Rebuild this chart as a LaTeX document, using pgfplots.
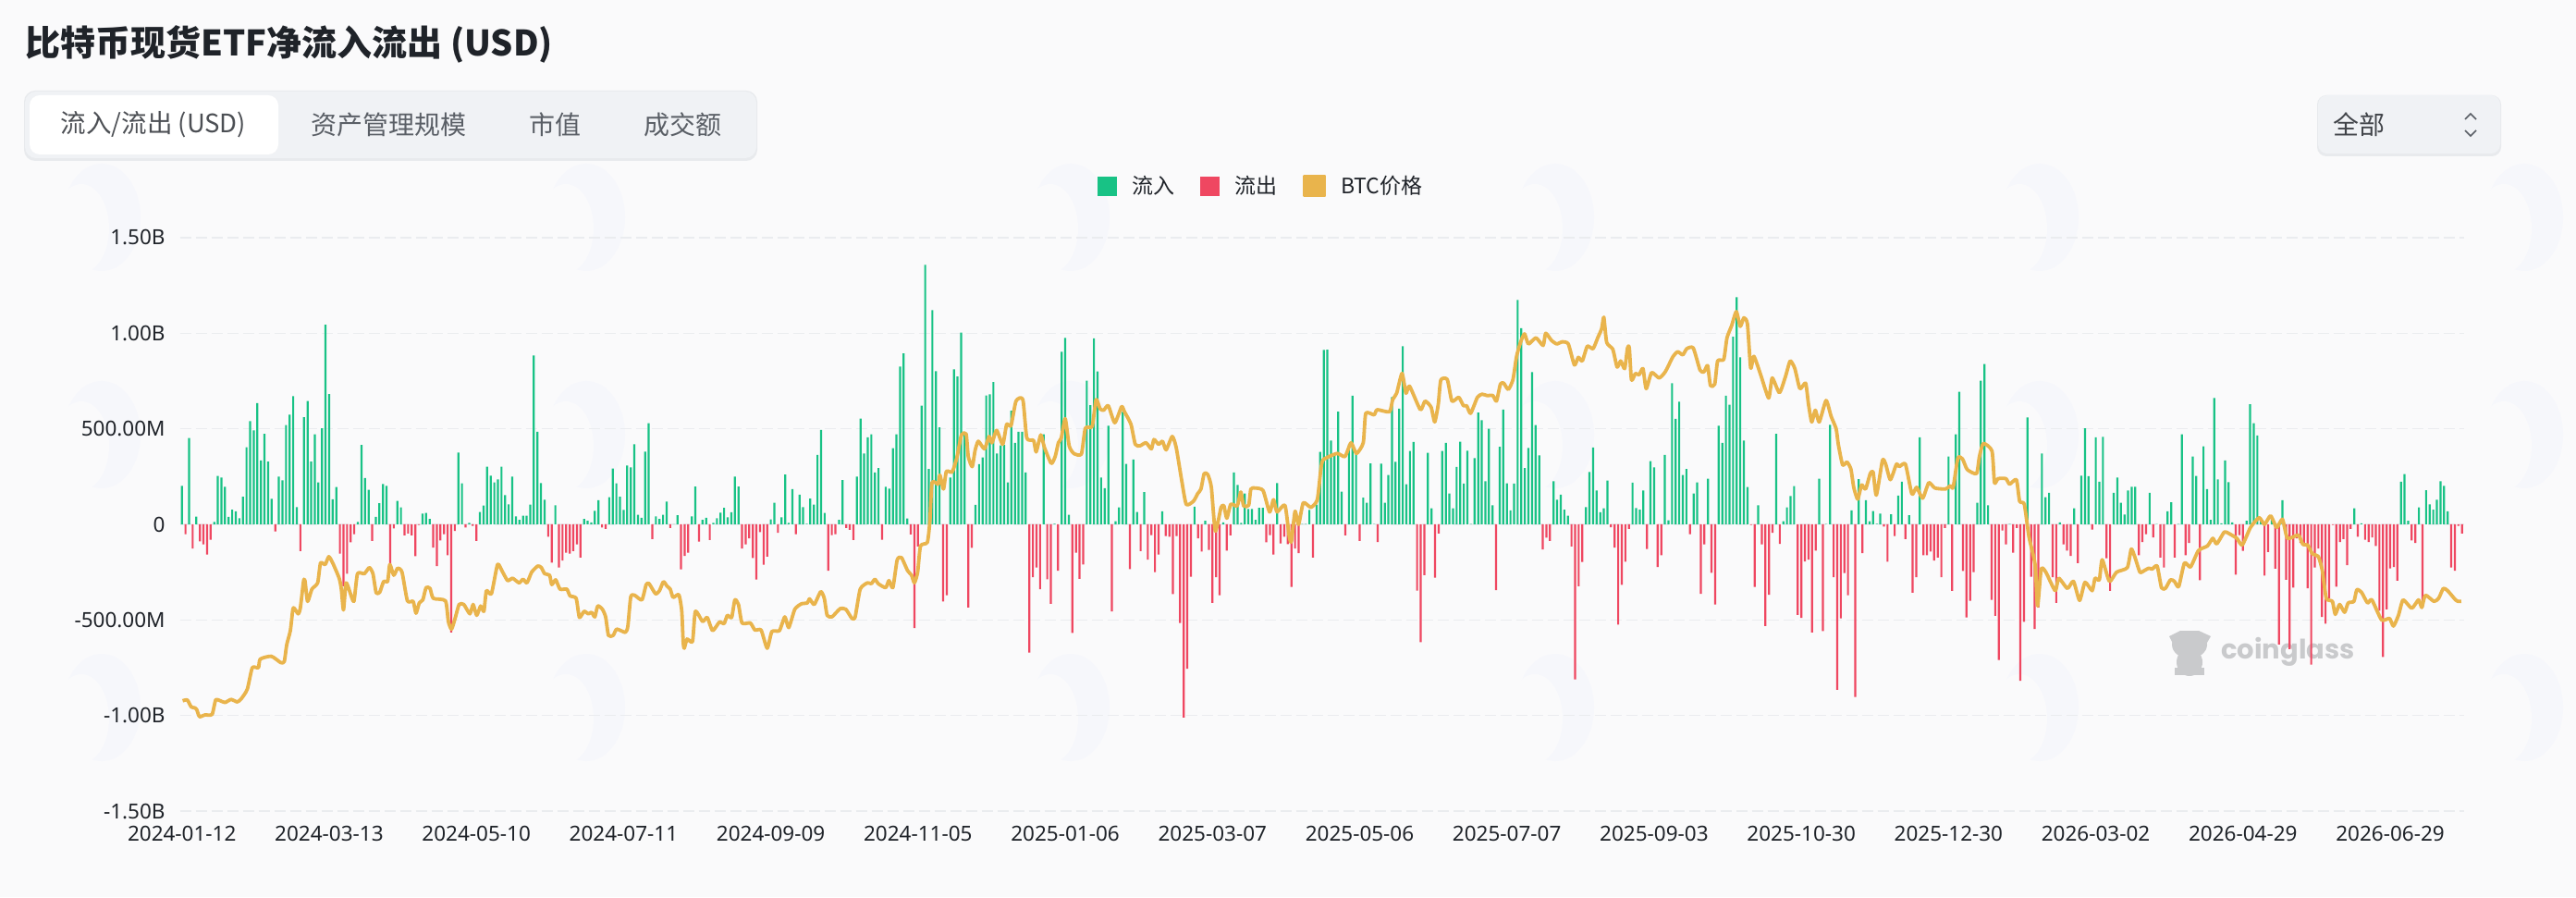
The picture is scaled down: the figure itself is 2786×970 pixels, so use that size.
\documentclass[border=0pt]{standalone}
\usepackage{pgfplots}
\usepackage{pgfplotstable}
\usepackage{fontspec}
\pgfplotsset{compat=1.18}
\setmainfont{Noto Sans}
\newfontfamily\cjk{Noto Sans CJK SC}
\newfontfamily\logofont{Poppins}
\definecolor{bgc}{HTML}{FAFAFB}
\definecolor{blob}{HTML}{F6F7FB}
\definecolor{tabbg}{HTML}{F0F2F5}
\definecolor{tabsh}{HTML}{E8EAED}
\definecolor{flowin}{HTML}{18C285}
\definecolor{flowout}{HTML}{EF4761}
\definecolor{btc}{HTML}{E9B44C}
\definecolor{gridc}{HTML}{EAECEF}
\definecolor{ticktxt}{HTML}{1F2329}
\definecolor{tabtxt}{HTML}{5A5F66}
\definecolor{logoc}{HTML}{C9CACC}
% net flow per trading day, millions of USD
\pgfplotstableread[row sep=crcr]{v\\
202\\-52\\452\\-126\\40\\-89\\-105\\-158\\-81\\13\\253\\245\\197\\39\\77\\68\\32\\145\\403\\540\\492\\635\\335\\474\\329\\134\\-37\\250\\230\\519\\574\\671\\90\\-140\\561\\645\\329\\471\\219\\503\\1044\\682\\131\\195\\-153\\-323\\-258\\-94\\-52\\13\\416\\242\\181\\-87\\39\\111\\211\\202\\-210\\-21\\123\\89\\-58\\-48\\-58\\-166\\-3\\56\\60\\29\\-121\\-218\\-84\\-52\\-161\\-565\\-35\\376\\215\\-16\\8\\-8\\-87\\65\\98\\302\\255\\219\\235\\302\\
153\\105\\250\\42\\24\\45\\45\\103\\884\\484\\216\\129\\-65\\-200\\100\\-226\\-189\\-148\\-153\\-140\\-105\\-174\\29\\19\\10\\71\\127\\-16\\-23\\142\\292\\215\\145\\76\\308\\298\\419\\50\\35\\381\\529\\-77\\42\\29\\50\\119\\-19\\1\\48\\-235\\-165\\-148\\42\\198\\-90\\24\\35\\-82\\8\\32\\61\\87\\37\\63\\250\\198\\-127\\-105\\-73\\-176\\-289\\-40\\-211\\-169\\26\\113\\-44\\37\\261\\8\\185\\-52\\155\\90\\3\\135\\103\\363\\494\\60\\-242\\
-56\\-52\\23\\232\\-19\\-29\\-82\\250\\553\\371\\455\\471\\271\\295\\-81\\197\\187\\398\\471\\826\\895\\31\\-53\\-542\\-116\\621\\1358\\290\\1121\\802\\508\\-403\\-371\\245\\811\\773\\1003\\474\\-435\\-123\\102\\315\\350\\674\\681\\745\\371\\413\\415\\219\\594\\427\\484\\484\\271\\-671\\-277\\-226\\-339\\471\\-287\\-415\\3\\-242\\903\\976\\50\\-568\\-148\\-285\\-210\\752\\624\\973\\800\\245\\189\\516\\-456\\16\\89\\589\\316\\-234\\339\\65\\-140\\169\\-185\\-56\\-250\\-158\\
68\\-61\\-65\\-365\\-61\\-516\\-1011\\-755\\-274\\92\\-73\\-142\\19\\-134\\-411\\-277\\-371\\10\\-137\\-58\\271\\206\\8\\161\\81\\81\\24\\87\\87\\-94\\-56\\-158\\216\\-100\\-65\\-103\\-327\\-126\\-150\\2\\2\\76\\-173\\103\\379\\913\\914\\439\\371\\590\\171\\-58\\419\\673\\379\\-87\\140\\113\\319\\2\\-92\\318\\113\\258\\666\\327\\605\\932\\210\\384\\431\\-347\\-616\\-266\\374\\84\\-279\\-48\\384\\427\\161\\84\\300\\432\\213\\385\\2\\347\\585\\545\\226\\
500\\100\\-344\\406\\600\\215\\73\\213\\1174\\1027\\295\\400\\797\\519\\361\\-131\\-69\\-87\\226\\129\\155\\77\\45\\-116\\-811\\-324\\-197\\90\\274\\402\\177\\63\\84\\229\\-15\\-121\\-524\\-316\\-195\\-24\\218\\85\\77\\177\\-129\\331\\298\\-223\\-161\\363\\21\\739\\552\\642\\258\\290\\-52\\161\\219\\-363\\-105\\239\\-253\\-419\\516\\427\\673\\626\\982\\1189\\874\\439\\195\\-3\\-327\\100\\-105\\-532\\-368\\-44\\474\\-102\\16\\89\\148\\200\\-473\\-489\\-194\\-185\\-566\\-137\\
239\\-558\\2\\521\\-277\\-866\\-492\\-255\\-371\\73\\-903\\237\\-150\\127\\16\\69\\3\\56\\-11\\-195\\53\\-61\\150\\223\\-77\\48\\-358\\-276\\456\\-161\\-161\\-142\\-189\\-174\\-276\\-19\\355\\-348\\471\\694\\-244\\-487\\-400\\-250\\113\\752\\839\\100\\-395\\-479\\-710\\-32\\-105\\2\\-148\\-19\\-818\\-510\\560\\-274\\-547\\-435\\371\\142\\165\\-277\\-411\\10\\-105\\-137\\-165\\84\\-203\\255\\503\\252\\-27\\456\\223\\458\\-177\\-348\\165\\245\\113\\52\\177\\197\\197\\-161\\-92\\
-52\\165\\-68\\2\\-173\\-226\\68\\116\\-173\\2\\471\\-161\\-97\\355\\253\\-292\\408\\185\\24\\661\\235\\6\\334\\221\\10\\-263\\-56\\-139\\19\\629\\529\\465\\30\\-268\\-145\\24\\-232\\-629\\127\\-290\\-653\\-331\\-73\\-97\\-113\\-334\\-734\\-226\\-126\\-484\\-519\\-387\\-3\\-326\\-92\\-77\\-213\\-24\\84\\-65\\5\\-81\\-92\\-68\\-113\\-452\\-694\\-445\\-231\\-223\\-295\\223\\263\\19\\-84\\-97\\89\\-435\\179\\105\\77\\129\\226\\202\\68\\-226\\-242\\-8\\-48\\
}\flowtable
% BTC price curve, position on the chart's scale: bar index, level
\pgfplotstableread[row sep=crcr]{i p\\
0.2 -923\\1.5 -919\\2.6 -955\\3.6 -960\\4.1 -968\\4.9 -1006\\6.4 -997\\8.4 -994\\9.4 -919\\10.7 -923\\12.0 -932\\13.7 -916\\15.4 -929\\16.5 -913\\18.2 -863\\19.6 -750\\21.3 -750\\21.8 -705\\24.9 -690\\27.5 -723\\28.5 -718\\29.2 -629\\30.2 -556\\30.9 -444\\31.3 -439\\32.4 -468\\33.0 -435\\33.9 -294\\34.3 -298\\35.0 -403\\36.2 -339\\37.8 -306\\38.6 -202\\39.9 -210\\40.9 -169\\42.0 -202\\43.8 -282\\44.4 -339\\45.0 -448\\45.7 -306\\46.8 -355\\47.9 -403\\48.9 -258\\50.8 -258\\52.2 -226\\53.2 -258\\54.1 -358\\55.1 -355\\56.2 -298\\57.3 -298\\57.9 -210\\59.0 -266\\60.1 -229\\61.3 -250\\62.8 -400\\64.4 -403\\65.2 -465\\66.1 -411\\67.1 -395\\68.0 -331\\69.1 -335\\70.0 -387\\73.4 -400\\74.2 -508\\75.1 -548\\76.2 -484\\77.2 -419\\78.5 -419\\80.2 -468\\81.1 -419\\82.1 -476\\83.2 -427\\84.1 -455\\84.8 -347\\86.2 -363\\87.9 -210\\89.1 -242\\
90.7 -294\\92.1 -282\\93.9 -306\\95.0 -287\\96.1 -306\\97.4 -250\\99.1 -218\\100.1 -226\\101.0 -258\\102.4 -266\\103.0 -315\\104.1 -290\\105.3 -339\\107.2 -339\\108.1 -374\\109.8 -387\\110.7 -487\\112.0 -455\\113.2 -468\\114.1 -460\\115.0 -484\\115.8 -427\\117.1 -444\\118.0 -484\\118.8 -581\\120.1 -581\\121.1 -548\\123.5 -565\\124.2 -532\\125.0 -379\\126.1 -371\\128.1 -395\\129.3 -315\\130.1 -310\\131.9 -363\\133.0 -347\\134.1 -300\\135.1 -323\\136.0 -339\\136.8 -382\\138.4 -368\\139.2 -452\\139.6 -613\\139.9 -648\\140.7 -600\\142.2 -613\\143.0 -455\\145.0 -508\\146.3 -487\\147.8 -556\\149.7 -511\\151.0 -519\\151.9 -476\\153.1 -487\\154.0 -395\\155.0 -419\\156.0 -516\\158.3 -516\\159.6 -553\\161.3 -553\\163.0 -648\\164.3 -561\\166.4 -556\\167.9 -484\\169.0 -540\\170.7 -444\\172.5 -416\\174.2 -411\\174.8 -390\\176.1 -419\\177.9 -352\\178.9 -387\\179.7 -476\\181.0 -484\\
182.3 -460\\183.4 -440\\184.9 -444\\186.6 -492\\187.5 -484\\188.9 -339\\190.9 -306\\192.0 -310\\193.0 -287\\193.9 -310\\196.0 -331\\196.9 -294\\198.0 -331\\199.2 -186\\200.4 -174\\202.1 -242\\203.2 -266\\204.0 -306\\204.9 -250\\205.7 -113\\207.6 -94\\208.3 16\\208.9 218\\210.6 210\\211.1 258\\212.1 185\\212.9 277\\214.5 274\\215.8 347\\217.1 468\\218.4 473\\219.0 355\\220.1 302\\220.9 387\\221.8 435\\223.5 395\\224.8 460\\225.6 427\\226.9 492\\228.6 419\\229.7 524\\230.9 516\\232.3 645\\234.2 653\\235.3 452\\237.2 439\\237.9 379\\239.2 468\\240.2 403\\242.1 319\\243.2 355\\244.1 427\\244.9 452\\246.0 553\\247.1 411\\248.4 371\\250.5 368\\251.6 503\\253.5 513\\254.6 653\\255.7 605\\256.7 597\\258.0 621\\259.8 532\\261.7 616\\262.5 589\\264.3 524\\265.5 419\\266.8 411\\268.5 427\\270.0 395\\270.7 444\\272.0 419\\
273.1 435\\274.1 390\\275.8 460\\276.9 403\\278.4 234\\279.7 105\\281.7 121\\282.9 161\\283.8 185\\284.7 266\\285.7 261\\286.7 194\\287.8 -35\\289.4 89\\290.2 97\\291.0 32\\292.1 105\\293.9 97\\294.9 169\\295.7 97\\297.1 100\\297.7 185\\299.0 190\\301.1 177\\302.9 65\\304.0 129\\305.0 65\\307.2 100\\308.4 -65\\309.0 -89\\310.0 68\\311.0 0\\312.3 113\\314.4 89\\316.2 129\\317.2 290\\317.9 339\\321.7 371\\323.9 355\\325.6 427\\327.1 371\\329.0 427\\329.7 581\\332.0 573\\332.9 600\\336.3 589\\337.2 653\\338.3 686\\339.8 790\\340.9 686\\341.9 723\\344.9 600\\346.2 645\\347.9 613\\348.9 536\\349.9 629\\350.6 755\\352.4 758\\353.7 645\\355.6 665\\356.9 621\\357.8 621\\358.9 581\\360.8 665\\362.1 681\\363.5 674\\
365.1 674\\366.1 645\\367.2 734\\368.1 739\\369.4 706\\370.7 758\\371.7 879\\372.8 952\\373.9 997\\375.0 944\\377.1 976\\379.1 936\\379.8 1000\\381.4 963\\382.9 944\\384.4 955\\386.1 944\\387.8 834\\388.9 874\\390.0 855\\391.4 932\\393.0 919\\394.3 976\\395.4 1024\\396.0 1084\\396.8 952\\398.5 916\\399.7 823\\400.7 855\\401.8 815\\402.6 923\\403.1 923\\403.7 755\\404.8 790\\405.8 782\\406.9 815\\407.8 710\\409.3 794\\411.4 766\\413.1 798\\415.3 879\\416.6 903\\418.0 887\\419.1 919\\420.9 923\\422.8 807\\423.9 798\\424.9 831\\425.7 726\\426.9 734\\427.7 855\\429.4 863\\430.3 976\\431.6 1040\\432.9 1113\\434.0 1036\\435.0 1081\\436.0 1048\\436.9 819\\437.8 879\\439.7 782\\441.9 661\\442.9 766\\444.9 689\\446.6 774\\447.9 855\\449.2 815\\450.6 710\\452.2 739\\453.0 629\\453.9 536\\454.9 597\\
456.0 536\\457.9 648\\459.3 565\\460.7 500\\461.3 419\\462.5 311\\463.7 326\\464.8 290\\465.6 194\\466.7 132\\467.8 206\\468.9 185\\470.2 266\\471.0 274\\471.9 153\\473.6 335\\474.5 315\\475.8 234\\477.5 315\\478.3 302\\480.0 315\\481.8 158\\483.1 194\\484.8 137\\486.5 218\\488.2 190\\491.2 185\\492.5 202\\493.3 194\\494.6 347\\495.9 342\\497.2 287\\499.8 266\\500.6 355\\501.7 423\\504.1 384\\504.8 218\\505.8 239\\508.0 239\\509.0 210\\510.9 234\\511.8 121\\513.1 105\\514.4 -65\\516.1 -210\\516.8 -427\\517.8 -234\\519.1 -250\\521.7 -347\\522.7 -282\\525.1 -335\\526.8 -298\\528.5 -398\\530.0 -303\\532.0 -347\\532.8 -282\\534.0 -290\\534.8 -185\\536.8 -298\\538.8 -250\\541.8 -226\\542.9 -129\\544.0 -177\\545.3 -250\\546.5 -242\\
547.8 -229\\548.7 -234\\550.1 -218\\551.3 -331\\552.4 -335\\553.8 -290\\554.9 -298\\556.1 -326\\557.7 -202\\559.4 -223\\561.6 -137\\564.1 -113\\565.6 -73\\566.7 -102\\568.8 -40\\570.1 -48\\572.3 -73\\573.8 -108\\576.1 -16\\578.5 35\\580.0 0\\581.7 45\\583.4 -16\\585.0 27\\586.4 -73\\589.4 -56\\590.7 -105\\592.0 -108\\593.3 -153\\595.0 -169\\596.1 -242\\597.2 -387\\598.9 -403\\599.7 -471\\600.9 -419\\602.3 -460\\603.3 -411\\604.9 -403\\605.7 -342\\607.0 -355\\608.7 -411\\609.9 -395\\612.6 -500\\614.8 -492\\615.9 -532\\617.3 -476\\618.6 -395\\621.0 -439\\622.9 -395\\623.8 -435\\624.8 -371\\627.2 -403\\628.5 -387\\629.8 -335\\631.0 -347\\633.2 -395\\634.0 -403\\634.8 -403\\
}\btctable
\begin{document}
\begin{tikzpicture}
\path[use as bounding box] (0pt,0pt) rectangle (2786pt,970pt);
\fill[bgc] (0pt,0pt) rectangle (2786pt,970pt);
% faint background watermark
\foreach \bx in {110,634,1158,1682,2206,2730}{
  \foreach \by in {735,500,205}{
    \fill[blob] (\bx pt,\by pt) ellipse (42pt and 58pt);
    \fill[bgc] (\bx pt-22pt,\by pt-12pt) ellipse (30pt and 48pt);
  }
}
% title
\node[anchor=west,inner sep=0pt,text=ticktxt] at (27pt,922pt)
  {\fontsize{38}{44}\selectfont\cjk\bfseries 比特币现货ETF净流入流出 (USD)};
% tabs
\fill[tabsh,rounded corners=12pt] (26pt,796pt) rectangle (819pt,872pt);
\fill[tabbg,rounded corners=12pt] (27pt,799pt) rectangle (818pt,871pt);
\fill[white,rounded corners=11pt] (32pt,803pt) rectangle (301pt,867pt);
\node[text=ticktxt!80!white,inner sep=0pt] at (166pt,835pt) {\fontsize{27.5}{32}\selectfont\cjk 流入/流出 (USD)};
\node[text=tabtxt,inner sep=0pt] at (420pt,835pt) {\fontsize{28}{32}\selectfont\cjk 资产管理规模};
\node[text=tabtxt,inner sep=0pt] at (600pt,835pt) {\fontsize{28}{32}\selectfont\cjk 市值};
\node[text=tabtxt,inner sep=0pt] at (738pt,835pt) {\fontsize{28}{32}\selectfont\cjk 成交额};
% selector
\fill[tabsh,rounded corners=10pt] (2506pt,801pt) rectangle (2705pt,867pt);
\fill[tabbg,rounded corners=10pt] (2507pt,804pt) rectangle (2704pt,867pt);
\node[text=ticktxt!85!white,inner sep=0pt] at (2551pt,835pt) {\fontsize{28}{32}\selectfont\cjk 全部};
\draw[tabtxt,line width=1.6pt] (2666pt,841pt)--(2672pt,847pt)--(2678pt,841pt);
\draw[tabtxt,line width=1.6pt] (2666pt,829pt)--(2672pt,823pt)--(2678pt,829pt);
% coinglass mark
\fill[logoc] (2368pt,273pt) ellipse (19pt and 15pt);
\fill[logoc] (2368pt,254pt) ellipse (14pt and 15pt);
\fill[logoc] (2346pt,282pt) -- (2358pt,288pt) -- (2378pt,288pt) -- (2391pt,282pt) -- (2384pt,270pt) -- (2352pt,270pt) -- cycle;
\fill[logoc] (2352pt,240pt) rectangle (2364pt,248pt);
\fill[logoc] (2372pt,240pt) rectangle (2384pt,248pt);
\node[anchor=west,inner sep=0pt,text=logoc] at (2402pt,265pt) {\fontsize{29}{34}\selectfont\logofont\bfseries coinglass};
\begin{axis}[
  at={(194.8pt,93pt)}, anchor=south west,
  scale only axis, width=2469.8pt, height=620pt,
  xmin=-0.5, xmax=635.5, ymin=-1500, ymax=1500,
  axis line style={draw=none},
  major tick length=0pt,
  ymajorgrids,
  grid style={gridc,line width=1.5pt,dash pattern=on 12pt off 5pt},
  ytick={-1500,-1000,-500,0,500,1000,1500},
  yticklabels={-1.50B,-1.00B,-500.00M,0,500.00M,1.00B,1.50B},
  xtick={0,41,82,123,164,205,246,287,328,369,410,451,492,533,574,615},
  xticklabels={2024-01-12,2024-03-13,2024-05-10,2024-07-11,2024-09-09,2024-11-05,2025-01-06,2025-03-07,2025-05-06,2025-07-07,2025-09-03,2025-10-30,2025-12-30,2026-03-02,2026-04-29,2026-06-29},
  ticklabel style={font=\fontsize{22.5}{26}\selectfont,text=ticktxt,inner sep=0pt},
  yticklabel style={anchor=east,xshift=-16pt},
  xticklabel style={anchor=center,yshift=-24pt},
  legend columns=3,
  legend style={at={(0.4734,1.0903)},anchor=center,draw=none,fill=none,inner sep=0pt,
    font=\fontsize{23}{27}\selectfont\cjk,text=ticktxt,
    /tikz/every even column/.append style={column sep=26pt}},
]
\addplot[ybar,bar shift=0pt,bar width=2.2pt,fill=flowin,draw=none,
  restrict y to domain=0:3000,
  legend image code/.code={\fill[flowin] (0pt,-10.5pt) rectangle (21pt,10.5pt);\path (35pt,0pt);}]
  table[x expr=\coordindex,y=v]{\flowtable};
\addlegendentry{流入}
\addplot[ybar,bar shift=0pt,bar width=2.2pt,fill=flowout,draw=none,
  restrict y to domain=-3000:0,
  legend image code/.code={\fill[flowout] (0pt,-10.5pt) rectangle (21pt,10.5pt);\path (35pt,0pt);}]
  table[x expr=\coordindex,y=v]{\flowtable};
\addlegendentry{流出}
\addplot[btc,line width=3.8pt,smooth,tension=0.35,line join=round,no marks,
  legend image code/.code={\fill[btc] (0pt,-10.5pt) rectangle (21pt,10.5pt);\path (35pt,0pt);}]
  table[x=i,y=p]{\btctable};
\addlegendentry{BTC价格}
\end{axis}
\end{tikzpicture}
\end{document}
